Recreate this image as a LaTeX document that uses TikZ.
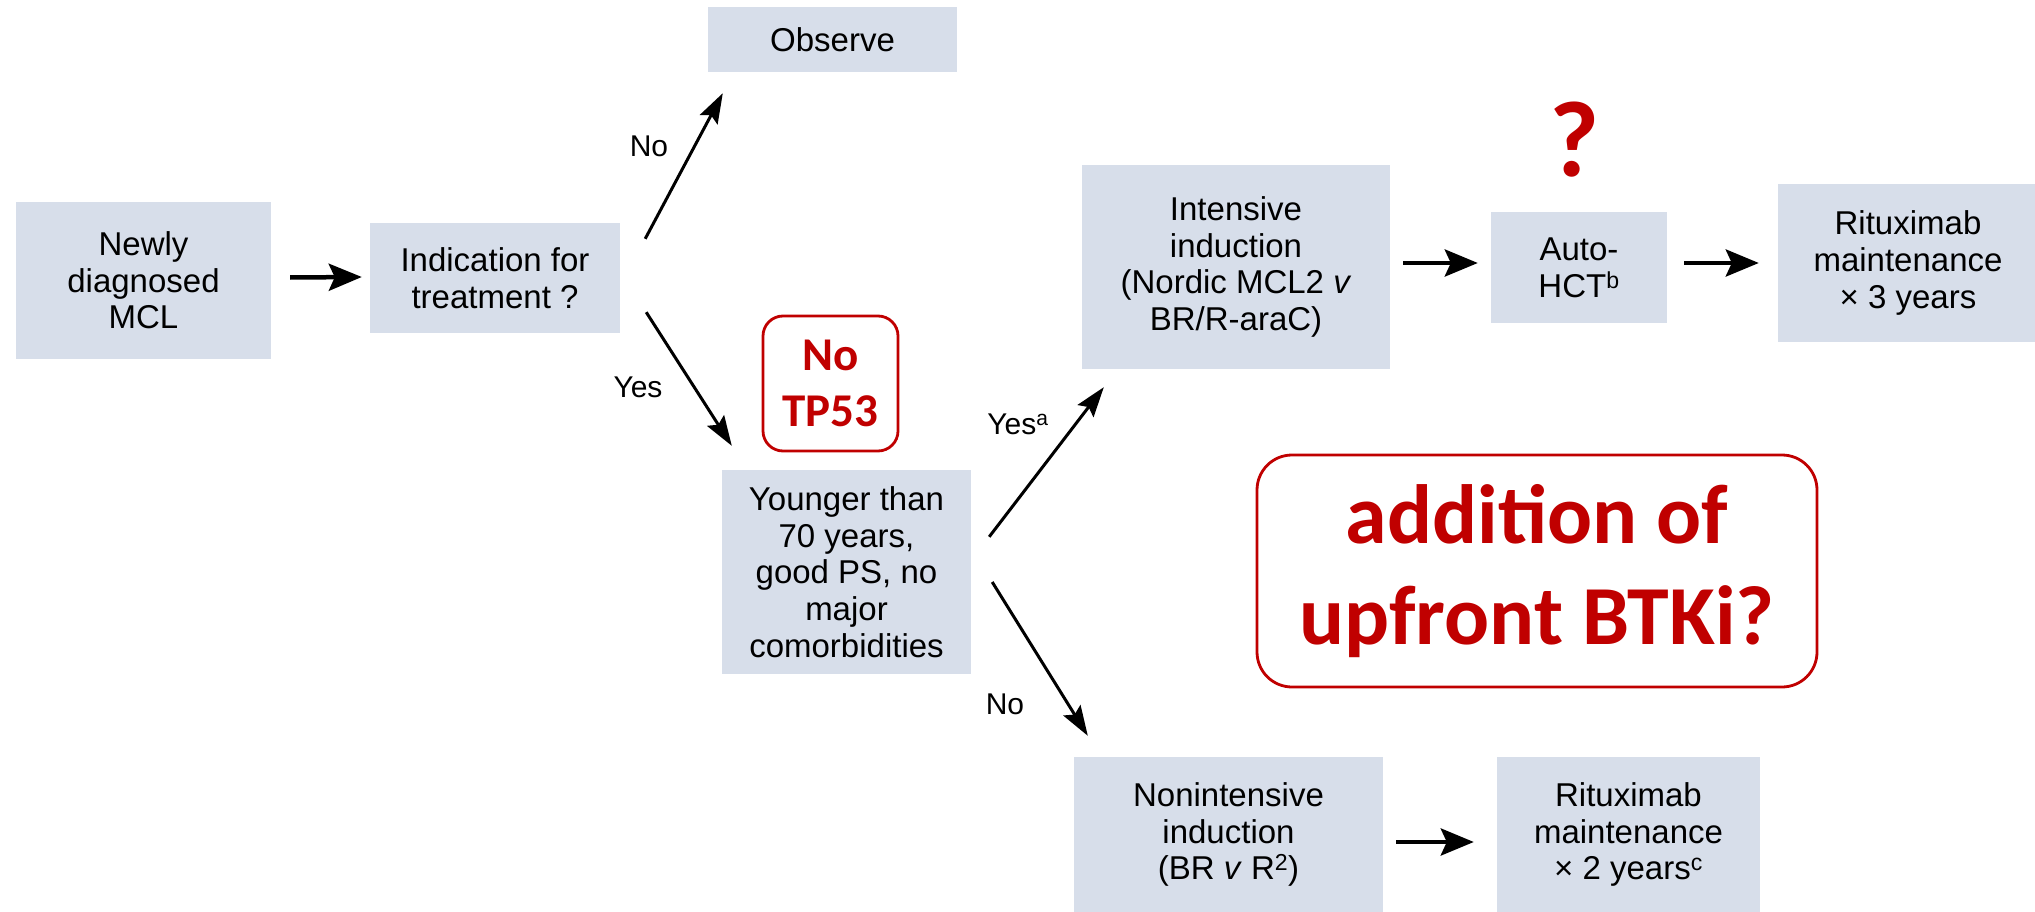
\documentclass[tikz,border=0pt]{standalone}
\usepackage{fontspec}
\setmainfont{Liberation Sans}
\newfontfamily\calfont{Carlito}
\usetikzlibrary{arrows.meta,calc}
\definecolor{boxblue}{RGB}{215,222,234}
\definecolor{darkred}{RGB}{192,0,0}
\tikzset{
  bluebox/.style={fill=boxblue, draw=none, rectangle, align=center, inner sep=0pt,
    font=\fontsize{33}{36.7}\selectfont},
  redbox/.style={draw=darkred, line width=2.8pt, rectangle, align=center, inner sep=0pt,
    text=darkred, font=\calfont\bfseries},
  harr/.style={line width=4.5pt, -{Stealth[length=33pt, width=27pt, inset=6pt]}},
  darr/.style={line width=3pt, -{Stealth[length=30pt, width=20pt, inset=5pt]}},
  lbl/.style={font=\fontsize{30}{34}\selectfont, inner sep=0pt},
}
\begin{document}
\begin{tikzpicture}[x=1pt,y=-1pt]
\useasboundingbox (0,0) rectangle (2035,912);
% blue boxes
\node[bluebox, minimum width=255pt, minimum height=157pt] (newly) at (143.5,280.5) {Newly\\diagnosed\\MCL};
\node[bluebox, minimum width=250pt, minimum height=110pt] (ind) at (495,278) {Indication for\\treatment ?};
\node[bluebox, minimum width=249pt, minimum height=65pt] (obs) at (832.5,39.5) {Observe};
\node[bluebox, minimum width=249pt, minimum height=204pt] (young) at (846.5,572) {Younger than\\70 years,\\good PS, no\\major\\comorbidities};
\node[bluebox, minimum width=308pt, minimum height=204pt] (int) at (1236,267) {Intensive\\induction\\(Nordic MCL2 \textit{v}\\BR/R-araC)};
\node[bluebox, minimum width=176pt, minimum height=111pt] (auto) at (1579,267.5) {Auto-\\HCT\textsuperscript{b}};
\node[bluebox, minimum width=260pt, minimum height=158pt] (rit3) at (1908,263) {Rituximab\\maintenance\\× 3 years};
\node[bluebox, minimum width=309pt, minimum height=155pt] (nonint) at (1228.5,834.5) {Nonintensive\\induction\\(BR \textit{v} R\textsuperscript{2})};
\node[bluebox, minimum width=263pt, minimum height=155pt] (rit2) at (1628.5,834.5) {Rituximab\\maintenance\\× 2 years\textsuperscript{c}};
% red boxes
\node[redbox, rounded corners=20pt, minimum width=135pt, minimum height=135pt,
  font=\calfont\bfseries\fontsize{47}{56}\selectfont] (tp53) at (830.5,383.5) {No\\TP53};
\node[redbox, rounded corners=35pt, minimum width=560pt, minimum height=232pt,
  font=\calfont\bfseries\fontsize{84}{101}\selectfont] (btki) at (1537,571) {addition of\\upfront BTKi?};
\node[text=darkred, font=\calfont\bfseries\fontsize{108}{120}\selectfont, inner sep=0pt] (qm) at (1575,140) {?};
% arrows
\draw[harr] ([yshift=3pt]newly.east) ++(19,0) -- ([xshift=-8pt,yshift=1pt]ind.west);
\draw[darr] ($(ind.north east)+(25,16)$) -- ($(obs.south west)+(15,21)$);
\draw[darr] ($(ind.south east)+(26,-21)$) -- ($(young.north west)+(10,-24)$);
\draw[darr] ($(young.north east)+(18,67)$) -- ($(int.south west)+(22,18)$);
\draw[darr] ($(young.east)+(21,10)$) -- ($(nonint.north west)+(14,-21)$);
\draw[harr] ($(int.east)+(13,-4)$) -- ($(auto.west)+(-13,-4.5)$);
\draw[harr] ($(auto.east)+(17,-4.5)$) -- ($(rit3.west)+(-19,0)$);
\draw[harr] ($(nonint.east)+(13,7.5)$) -- ($(rit2.west)+(-23,7.5)$);
% labels
\node[lbl] (lno1) at (649,146) {No};
\node[lbl] (lyes1) at (638,387) {Yes};
\node[lbl] (lyes2) at (1018,424) {Yes\textsuperscript{a}};
\node[lbl] (lno2) at (1005,704) {No};
\end{tikzpicture}
\end{document}
